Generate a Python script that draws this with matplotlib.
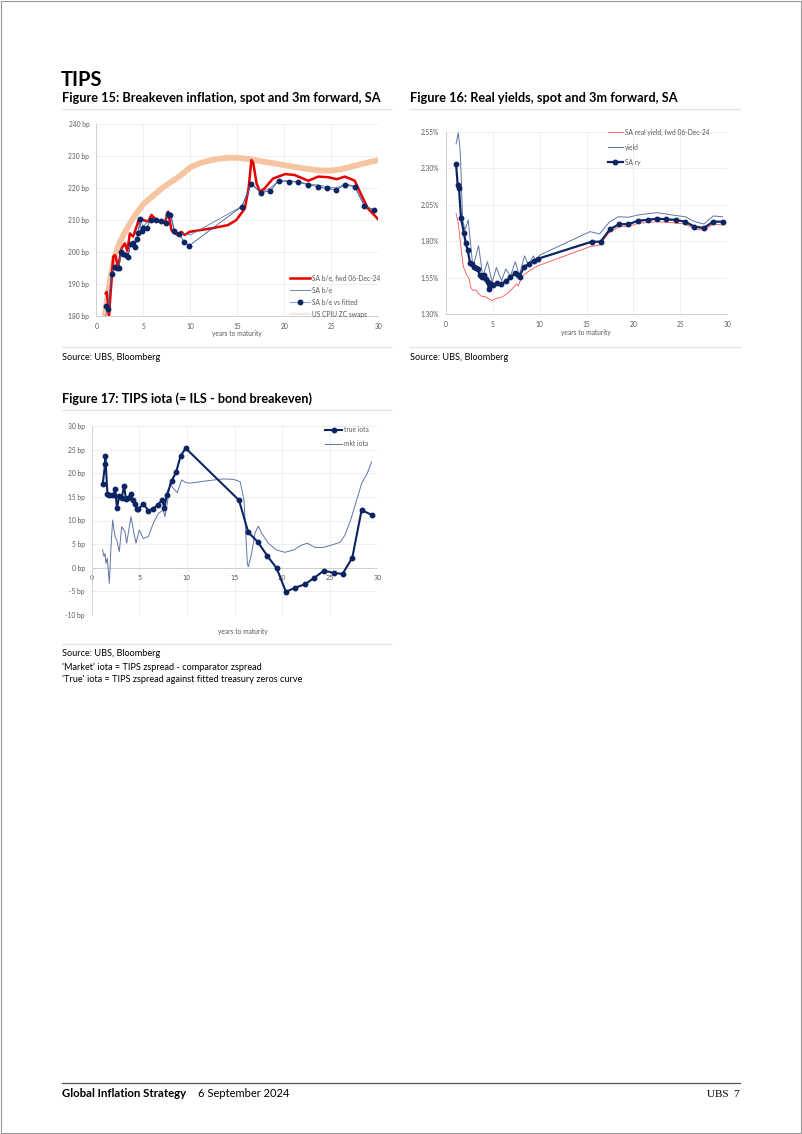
import matplotlib
matplotlib.use('Agg')
import matplotlib.pyplot as plt
from matplotlib.lines import Line2D
from matplotlib.patches import Rectangle

# Page size in pixels (dpi 100)
W, H = 802, 1134

# ---- Figure 15 data: breakeven inflation (bp) ----
swap_x = [0.9, 1.2, 1.5, 2.0, 2.5, 3.0, 4.0, 5.0, 6.0, 7.0, 8.0, 9.0, 10.0, 11.0, 12.0, 13.0,
          14.0, 15.0, 16.0, 17.0, 18.0, 19.0, 20.0, 21.0, 22.0, 23.0, 24.0, 25.0, 26.0, 27.0,
          28.0, 29.0, 30.0]
swap_be = [180.5, 186.0, 192.0, 199.0, 203.0, 206.0, 211.0, 215.0, 217.5, 220.0, 222.0, 224.0,
           226.5, 227.8, 228.6, 229.2, 229.5, 229.5, 229.2, 228.7, 228.2, 227.7, 227.2, 226.7,
           226.2, 225.8, 225.5, 225.5, 225.9, 226.6, 227.4, 228.1, 228.8]

fwd_x = [1.0, 1.1, 1.27, 1.35, 1.8, 2.0, 2.33, 2.69, 3.04, 3.3, 3.57, 3.92, 4.28, 4.56, 4.98,
         5.51, 5.87, 6.22, 6.75, 7.28, 7.63, 7.99, 8.34, 8.69, 9.05, 9.4, 9.93, 12.3, 14.0, 14.9,
         15.8, 16.2, 16.5, 16.7, 17.05, 17.4, 17.9, 18.8, 20.1, 21.1, 22.55, 23.6, 24.7, 25.6,
         26.45, 27.5, 28.2, 28.9, 30.0]
fwd_be = [187.0, 187.5, 183.0, 180.0, 198.5, 199.0, 195.4, 201.1, 202.7, 200.3, 205.8, 204.8,
          207.9, 210.5, 210.0, 209.5, 211.6, 210.5, 209.5, 209.0, 212.6, 206.9, 205.8, 205.3,
          206.3, 205.3, 206.3, 207.4, 208.4, 210.0, 213.6, 219.9, 228.8, 227.8, 221.5, 218.9,
          219.9, 223.0, 224.4, 224.1, 222.3, 223.6, 223.4, 222.8, 223.6, 222.3, 217.8, 213.6,
          210.2]

spot_x = [1.0, 1.3, 1.6, 2.0, 2.4, 2.7, 3.0, 3.4, 3.7, 4.1, 4.5, 4.65, 5.0, 5.8, 6.4, 6.9, 7.4,
          7.7, 8.0, 8.3, 8.8, 9.4, 10.0, 15.5, 16.5, 17.5, 18.5, 19.4, 20.5, 21.5, 22.5, 23.5,
          24.5, 25.5, 26.5, 27.5, 28.5, 29.5]
spot_be = [180.0, 183.0, 193.5, 195.5, 195.0, 201.0, 199.5, 199.0, 203.0, 202.5, 206.0, 210.0,
           208.0, 210.5, 210.2, 209.0, 209.8, 212.0, 211.0, 207.0, 205.5, 205.8, 205.3, 214.3,
           221.3, 218.6, 220.0, 222.3, 222.3, 222.0, 221.3, 221.0, 220.5, 220.0, 221.3, 220.6,
           214.6, 213.2]

fit_x = [1.0, 1.28, 1.63, 1.99, 2.2, 2.4, 2.6, 2.87, 3.16, 3.37, 3.65, 3.87, 4.1, 4.3, 4.47,
         4.6, 4.82, 5.0, 5.35, 5.8, 6.35, 6.9, 7.4, 7.6, 7.87, 8.3, 8.83, 9.36, 9.86, 15.46,
         16.5, 17.5, 18.5, 19.4, 20.5, 21.5, 22.55, 23.55, 24.5, 25.5, 26.5, 27.5, 28.5, 29.5]
fit_be = [183.0, 182.0, 193.0, 195.2, 194.8, 194.8, 200.0, 199.2, 199.0, 198.5, 202.5, 202.7,
          201.6, 204.2, 205.8, 210.2, 206.5, 207.4, 207.6, 210.0, 210.0, 209.7, 209.2, 211.8,
          211.6, 206.5, 205.5, 203.2, 201.9, 214.2, 221.3, 218.6, 219.1, 222.3, 222.0, 221.9,
          221.0, 220.5, 219.9, 219.5, 221.0, 220.4, 214.5, 213.1]

# ---- Figure 16 data: real yields (%) ----
ryfwd_x = [1.1, 1.35, 1.7, 1.88, 2.24, 2.48, 2.7, 2.95, 3.23, 3.48, 3.76, 4.19, 4.6, 4.97, 5.43,
           5.96, 6.5, 7.03, 7.56, 7.74, 8.1, 8.63, 9.34, 9.87, 15.37, 16.4, 17.5, 18.5, 19.45,
           20.5, 22.5, 24.1, 25.5, 26.5, 27.5, 28.5, 29.5]
ryfwd = [1.991, 1.923, 1.717, 1.626, 1.569, 1.546, 1.478, 1.462, 1.467, 1.444, 1.425, 1.421,
         1.405, 1.394, 1.41, 1.416, 1.439, 1.471, 1.508, 1.494, 1.558, 1.585, 1.615, 1.633,
         1.763, 1.774, 1.866, 1.90, 1.90, 1.923, 1.934, 1.927, 1.918, 1.884, 1.877, 1.918, 1.911]

yld_x = [1.1, 1.34, 1.55, 1.81, 2.06, 2.4, 2.9, 3.5, 3.95, 4.45, 4.95, 5.4, 5.95, 6.4, 6.9,
         7.4, 7.85, 8.4, 8.8, 9.35, 9.6, 10.05, 15.37, 16.4, 17.0, 17.5, 18.4, 19.45, 20.5, 22.5,
         24.1, 25.5, 26.55, 27.5, 28.5, 29.5]
yld = [2.466, 2.543, 2.41, 1.945, 1.877, 1.946, 1.62, 1.77, 1.56, 1.66, 1.52, 1.62, 1.53, 1.61,
       1.56, 1.66, 1.57, 1.70, 1.64, 1.70, 1.665, 1.706, 1.866, 1.85, 1.90, 1.934, 1.968, 1.964,
       1.98, 1.996, 1.98, 1.968, 1.934, 1.918, 1.973, 1.968]

ry_x = [1.1, 1.28, 1.42, 1.63, 1.95, 2.13, 2.34, 2.6, 2.77, 3.0, 3.23, 3.4, 3.62, 3.83, 4.05,
        4.26, 4.47, 4.6, 4.8, 5.0, 5.43, 5.9, 6.4, 6.9, 7.38, 7.67, 7.88, 8.34, 8.87, 9.4, 9.87,
        15.55, 16.5, 17.5, 18.5, 19.45, 20.5, 21.5, 22.5, 23.5, 24.5, 25.5, 26.5, 27.5, 28.5,
        29.5]
ry = [2.329, 2.185, 2.162, 1.957, 1.854, 1.786, 1.74, 1.649, 1.642, 1.626, 1.615, 1.608, 1.569,
      1.558, 1.569, 1.54, 1.524, 1.471, 1.508, 1.50, 1.512, 1.505, 1.528, 1.553, 1.58, 1.569,
      1.558, 1.626, 1.644, 1.667, 1.681, 1.797, 1.797, 1.882, 1.918, 1.916, 1.941, 1.946, 1.955,
      1.95, 1.946, 1.934, 1.90, 1.891, 1.934, 1.934]

# ---- Figure 17 data: iota (bp) ----
true_x = [1.16, 1.4, 1.43, 1.65, 1.86, 2.1, 2.31, 2.45, 2.66, 2.9, 3.15, 3.4, 3.6, 3.85, 4.1,
          4.3, 4.55, 4.73, 4.9, 5.43, 5.95, 6.4, 6.93, 7.4, 7.63, 7.88, 8.4, 8.86, 9.35, 9.87,
          15.47, 16.45, 17.43, 18.45, 19.43, 20.4, 21.4, 22.4, 23.4, 24.4, 25.4, 26.35, 27.37,
          28.35, 29.4]
true_iota = [17.7, 21.9, 23.7, 15.7, 15.5, 15.4, 15.4, 16.7, 12.7, 15.2, 14.7, 17.4, 14.5, 14.7,
             15.6, 14.3, 13.4, 12.4, 12.4, 13.5, 12.1, 12.4, 13.3, 14.3, 12.7, 15.3, 18.4, 20.2,
             23.7, 25.3, 14.3, 7.5, 5.5, 2.5, -0.1, -5.1, -4.2, -3.5, -2.1, -0.6, -1.1, -1.3, 2.1,
             12.2, 11.2]

mkt_x = [1.15, 1.29, 1.4, 1.5, 1.64, 1.85, 2.03, 2.2, 2.45, 2.63, 2.9, 3.15, 3.5, 3.67, 4.13,
         4.37, 4.65, 5.0, 5.42, 5.95, 6.47, 7.0, 7.52, 7.7, 7.94, 8.23, 8.57, 8.99, 9.45, 9.8,
         10.3, 12.1, 13.8, 14.9, 15.6, 16.0, 16.2, 16.35, 16.45, 16.8, 17.15, 17.5, 17.86,
         18.55, 19.43, 20.3, 21.2, 22.06, 22.65, 23.45, 24.33, 25.2, 26.1, 26.6, 27.2, 27.83,
         28.36, 28.95, 29.4]
mkt_iota = [3.8, 2.4, 3.0, 0.9, 2.0, -3.3, 4.5, 10.1, 6.6, 5.9, 3.4, 8.7, 7.6, 5.2, 10.8, 8.0,
            5.2, 8.0, 6.2, 6.6, 9.4, 11.5, 12.2, 10.8, 13.6, 17.9, 16.8, 15.9, 18.6, 18.1, 17.9,
            18.4, 18.8, 18.7, 18.2, 14.3, 6.6, 0.9, 0.2, 3.05, 7.3, 8.8, 7.3, 5.2, 3.76, 3.26,
            3.76, 4.8, 5.2, 4.3, 4.3, 4.8, 5.4, 6.9, 10.1, 14.3, 17.9, 20.0, 22.4]

NAVY = '#0c2461'
RED = '#e60000'
PEACH = '#f6c4a0'
THIN = '#5f75a6'
GREY_TXT = '#595959'
GRID = '#ececec'
FONT = 'Lato'


def add_axes_px(fig, left, top, right, bottom):
    # Axes placed by page pixel coordinates
    return fig.add_axes([left / W, 1 - bottom / H, (right - left) / W, (bottom - top) / H])


def page_text(fig, x, y, s, **kw):
    fig.text(x / W, 1 - y / H, s, **kw)


def page_line(fig, x0, x1, y, color='#e3e3e3', lw=1.0):
    fig.add_artist(Line2D([x0 / W, x1 / W], [1 - y / H, 1 - y / H], color=color, lw=lw,
                          transform=fig.transFigure))


def style_axes(ax):
    for side in ['top', 'right']:
        ax.spines[side].set_visible(False)
    for side in ['left', 'bottom']:
        ax.spines[side].set_color('#d0d0d0')
        ax.spines[side].set_linewidth(0.7)
    ax.grid(True, color=GRID, lw=0.6)
    ax.set_axisbelow(True)
    ax.tick_params(length=0, labelsize=4.8, labelcolor=GREY_TXT, pad=5)
    ax.set_xlim(0, 30)
    ax.set_xticks(range(0, 31, 5))
    for lab in ax.get_xticklabels() + ax.get_yticklabels():
        lab.set_fontfamily(FONT)


def make_legend(ax, handles, labels, x, y, spacing, hlen):
    leg = ax.legend(handles, labels, loc='upper left', bbox_to_anchor=(x / W, 1 - y / H),
                    bbox_transform=ax.figure.transFigure, frameon=False, borderpad=0,
                    borderaxespad=0, handlelength=hlen, handletextpad=0.3,
                    labelspacing=spacing, prop={'family': FONT, 'size': 4.8})
    for t in leg.get_texts():
        t.set_color(GREY_TXT)
    return leg


def main():
    fig = plt.figure(figsize=(W / 100, H / 100), dpi=100)

    # page border
    fig.add_artist(Rectangle((0.001, 0.001), 0.998, 0.998, transform=fig.transFigure,
                             fill=False, edgecolor='#9a9a9a', lw=0.8))

    page_text(fig, 61, 86, 'TIPS', fontsize=14.5, fontweight='bold', family=FONT)

    # ---------------- Figure 15 ----------------
    page_text(fig, 62, 101.5, 'Figure 15: Breakeven inflation, spot and 3m forward, SA',
              fontsize=9.2, fontweight='bold', family=FONT)
    page_line(fig, 62, 391, 108.5)
    ax1 = add_axes_px(fig, 96.3, 124.3, 378.3, 315.7)
    style_axes(ax1)
    ax1.set_ylim(180, 240)
    ax1.set_yticks(range(180, 241, 10))
    ax1.set_yticklabels([f'{v} bp' for v in range(180, 241, 10)])
    ax1.plot(swap_x, swap_be, color=PEACH, lw=4.2, solid_capstyle='round', zorder=2)
    ax1.plot(fwd_x, fwd_be, color=RED, lw=1.8, zorder=3)
    ax1.plot(spot_x, spot_be, color=THIN, lw=0.6, zorder=4)
    ax1.plot(fit_x, fit_be, color='#3b5998', lw=0.6, marker='o', ms=3.2, mfc=NAVY,
             mec=NAVY, zorder=5)
    page_text(fig, 237, 333.5, 'years to maturity', fontsize=4.8, color=GREY_TXT,
              ha='center', va='center', family=FONT)
    h15 = [Line2D([], [], color=RED, lw=1.8),
           Line2D([], [], color=THIN, lw=0.6),
           Line2D([], [], color='#8faadc', lw=0.8, marker='o', ms=3.2, mfc=NAVY, mec=NAVY),
           Line2D([], [], color='#fbe2d0', lw=1.2)]
    make_legend(ax1, h15, ['SA b/e, fwd 06-Dec-24', 'SA b/e', 'SA b/e vs fitted',
                           'US CPIU ZC swaps'], 290, 274.5, 0.75, 3.0)
    page_line(fig, 62, 391, 346.5)
    page_text(fig, 62, 360, 'Source: UBS, Bloomberg', fontsize=6.6, family=FONT)

    # ---------------- Figure 16 ----------------
    page_text(fig, 410, 101.5, 'Figure 16: Real yields, spot and 3m forward, SA',
              fontsize=9.2, fontweight='bold', family=FONT)
    page_line(fig, 410, 740, 108.5)
    ax2 = add_axes_px(fig, 445.7, 131.7, 727.3, 314.3)
    style_axes(ax2)
    ax2.set_ylim(1.30, 2.55)
    yt = [1.30, 1.55, 1.80, 2.05, 2.30, 2.55]
    ax2.set_yticks(yt)
    ax2.set_yticklabels([f'{v:.2f}%' for v in yt])
    ax2.plot(ryfwd_x, ryfwd, color='#ff4d4d', lw=0.6, zorder=3)
    ax2.plot(yld_x, yld, color=THIN, lw=0.7, zorder=4)
    ax2.plot(ry_x, ry, color=NAVY, lw=1.6, marker='o', ms=3.2, zorder=5)
    page_text(fig, 586, 332.7, 'years to maturity', fontsize=4.8, color=GREY_TXT,
              ha='center', va='center', family=FONT)
    h16 = [Line2D([], [], color='#ff4d4d', lw=0.6),
           Line2D([], [], color=THIN, lw=0.7),
           Line2D([], [], color=NAVY, lw=1.6, marker='o', ms=3.2)]
    make_legend(ax2, h16, ['SA real yield, fwd 06-Dec-24', 'yield', 'SA ry'],
                608, 128.5, 1.2, 2.2)
    page_line(fig, 410, 740, 346.5)
    page_text(fig, 410, 360, 'Source: UBS, Bloomberg', fontsize=6.6, family=FONT)

    # ---------------- Figure 17 ----------------
    page_text(fig, 62, 403.3, 'Figure 17: TIPS iota (= ILS - bond breakeven)',
              fontsize=9.1, fontweight='bold', family=FONT)
    page_line(fig, 62, 391, 410)
    ax3 = add_axes_px(fig, 91.7, 426, 377.3, 615)
    style_axes(ax3)
    ax3.set_ylim(-10, 30)
    ax3.set_yticks(range(-10, 31, 5))
    ax3.set_yticklabels([f'{v} bp' for v in range(-10, 31, 5)])
    ax3.spines['bottom'].set_position(('data', 0))
    ax3.plot(mkt_x, mkt_iota, color=THIN, lw=0.7, zorder=3)
    ax3.plot(true_x, true_iota, color=NAVY, lw=1.5, marker='o', ms=3.2, zorder=5)
    page_text(fig, 243, 631.5, 'years to maturity', fontsize=4.8, color=GREY_TXT,
              ha='center', va='center', family=FONT)
    h17 = [Line2D([], [], color=NAVY, lw=1.5, marker='o', ms=3.2),
           Line2D([], [], color=THIN, lw=0.7)]
    make_legend(ax3, h17, ['true iota', 'mkt iota'], 325, 426.5, 1.0, 2.6)
    page_line(fig, 62, 391, 643.5)
    page_text(fig, 62, 656.5, 'Source: UBS, Bloomberg', fontsize=6.6, family=FONT)
    page_text(fig, 62, 670, "'Market' iota = TIPS zspread - comparator zspread",
              fontsize=6.6, family=FONT)
    page_text(fig, 62, 681.5, "'True' iota = TIPS zspread against fitted treasury zeros curve",
              fontsize=6.6, family=FONT)

    # ---------------- Footer ----------------
    page_line(fig, 62, 740, 1082.5, color='#555555', lw=0.9)
    page_text(fig, 62, 1097, 'Global Inflation Strategy', fontsize=8.2, fontweight='bold',
              family=FONT)
    page_text(fig, 198, 1097, '6 September 2024', fontsize=8.0, family=FONT)
    page_text(fig, 740, 1097, 'UBS  7', fontsize=8.0, ha='right', family='Liberation Serif')

    fig.savefig('out.png', dpi=100)
    plt.close(fig)


if __name__ == '__main__':
    main()
